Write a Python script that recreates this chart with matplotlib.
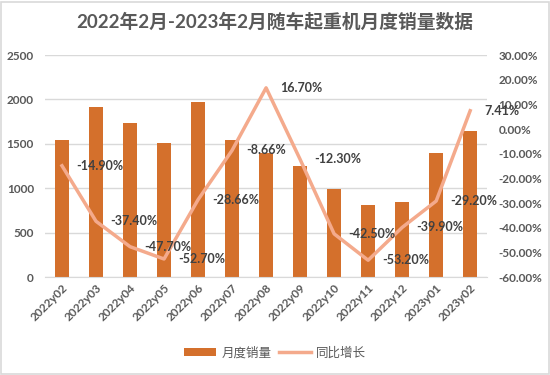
import numpy as np
import matplotlib.pyplot as plt
from matplotlib.patches import Rectangle

plt.rcParams['font.family'] = ['Lato', 'Noto Sans CJK SC', 'DejaVu Sans']

months = ['2022y02', '2022y03', '2022y04', '2022y05', '2022y06', '2022y07', '2022y08',
          '2022y09', '2022y10', '2022y11', '2022y12', '2023y01', '2023y02']
sales = [1543, 1914, 1738, 1506, 1974, 1543, 1398, 1253, 988, 807, 845, 1393, 1648]
yoy = [-14.90, -37.40, -47.70, -52.70, -28.66, -8.66, 16.70, -12.30, -42.50, -53.20,
       -39.90, -29.20, 7.41]

bar_color = '#D4702C'
line_color = '#F4AA8C'
text_gray = '#595959'
label_gray = '#404040'

fig = plt.figure(figsize=(5.5, 3.75), dpi=100)
fig.patches.append(Rectangle((0.002, 0.004), 0.996, 0.992, transform=fig.transFigure,
                             fill=False, edgecolor='#D9D9D9', linewidth=1.2))

ax = fig.add_axes([0.0818, 0.2613, 0.804, 0.592])
x = np.arange(len(months))
ax.bar(x, sales, width=0.4, color=bar_color, zorder=2, label='月度销量')
ax.set_xlim(-0.5, len(months) - 0.5)
ax.set_ylim(0, 2500)
ax.set_yticks(range(0, 2501, 500))
ax.grid(axis='y', color='#D9D9D9', linewidth=1, zorder=0)
for s in ['top', 'right', 'left']:
    ax.spines[s].set_visible(False)
ax.spines['bottom'].set_color('#D9D9D9')
ax.tick_params(axis='both', length=0, colors=text_gray, labelsize=8.5)
ax.tick_params(axis='y', pad=8)
ax.set_xticks(x)
ax.set_xticklabels(months, rotation=45, ha='right', rotation_mode='anchor',
                   fontweight='bold')
for t in ax.get_yticklabels():
    t.set_fontweight('bold')

ax2 = ax.twinx()
ax2.plot(x, yoy, color=line_color, linewidth=2.5, zorder=3, label='同比增长')
ax2.set_ylim(-60, 30)
ax2.set_yticks(range(-60, 31, 10))
ax2.set_yticklabels([f'{v:.2f}%' for v in range(-60, 31, 10)], fontweight='bold')
for s in ['top', 'right', 'left', 'bottom']:
    ax2.spines[s].set_visible(False)
ax2.tick_params(axis='y', length=0, colors=text_gray, labelsize=8.5, pad=8)

for xi, v in zip(x, yoy):
    ax2.annotate(f'{v:.2f}%', (xi, v), xytext=(10, 0), textcoords='offset points',
                 ha='left', va='center', fontsize=9, fontweight='bold', color=label_gray)

fig.text(0.5, 0.941, '2022年2月-2023年2月随车起重机月度销量数据', ha='center', va='center',
         fontsize=13.5, fontweight='bold', color=text_gray)

h1, l1 = ax.get_legend_handles_labels()
h2, l2 = ax2.get_legend_handles_labels()
fig.legend(h1 + h2, l1 + l2, loc='center', bbox_to_anchor=(0.5, 0.061), ncol=2,
           frameon=False, fontsize=9, labelcolor=text_gray, handlelength=2.6,
           handleheight=0.6, columnspacing=0.6, handletextpad=0.4)

fig.savefig('out.png', dpi=100)
